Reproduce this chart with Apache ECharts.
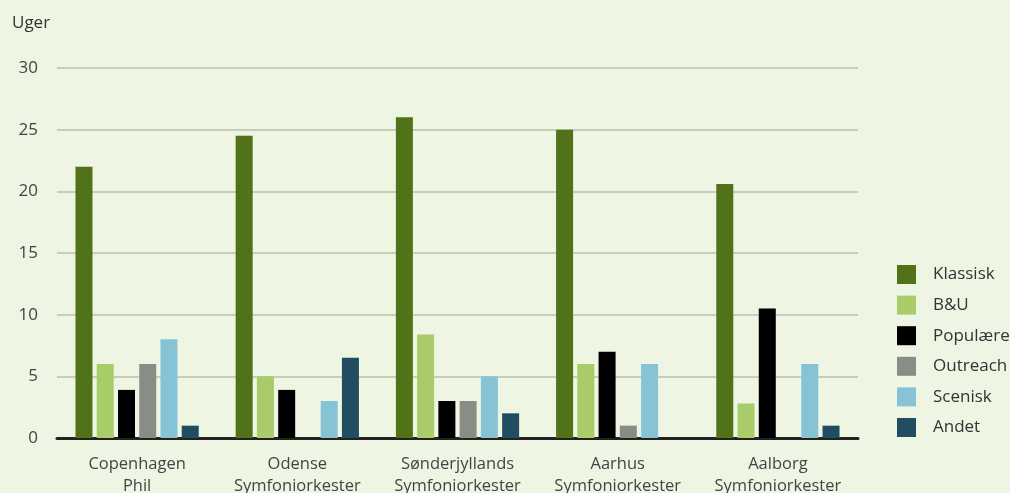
<!DOCTYPE html>
<html>
<head>
<meta charset="utf-8">
<script src="https://cdn.jsdelivr.net/npm/echarts@6/dist/echarts.min.js"></script>
<style>
html,body{margin:0;padding:0;background:#eef5e2;}
#chart{width:1010px;height:493px;}
</style>
</head>
<body>
<div id="chart"></div>
<script>
const categories = ['Copenhagen\nPhil', 'Odense\nSymfoniorkester', 'Sønderjyllands\nSymfoniorkester', 'Aarhus\nSymfoniorkester', 'Aalborg\nSymfoniorkester'];
const seriesNames = ['Klassisk', 'B&U', 'Populære', 'Outreach', 'Scenisk', 'Andet'];
const klassisk = [22, 24.5, 26, 25, 20.6];
const bu = [6, 5, 8.4, 6, 2.8];
const populaere = [3.9, 3.9, 3, 7, 10.5];
const outreach = [6, 0, 3, 1, 0];
const scenisk = [8, 3, 5, 6, 6];
const andet = [1, 6.5, 2, 0, 1];
const yTicks = [0, 5, 10, 15, 20, 25, 30];

const colors = ['#517219', '#a9cc6a', '#000000', '#8a8d85', '#86c4d5', '#224c5f'];
const values = [klassisk, bu, populaere, outreach, scenisk, andet];
const font = '"Open Sans", sans-serif';

const chart = echarts.init(document.getElementById('chart'));
chart.setOption({
  backgroundColor: '#eef5e2',
  animation: false,
  color: colors,
  title: {
    text: 'Uger', left: 7, top: 10,
    textStyle: { fontFamily: font, fontSize: 17, fontWeight: 'normal', color: '#333' }
  },
  grid: { left: 57, right: 152, top: 68, bottom: 55, outerBoundsMode: 'none' },
  legend: {
    orient: 'vertical', left: 892, top: 260,
    itemWidth: 19, itemHeight: 19, itemGap: 11.6,
    icon: 'rect',
    data: seriesNames,
    textStyle: { fontFamily: font, fontSize: 17, color: '#333', padding: [0, 0, 0, 12] }
  },
  xAxis: {
    type: 'category',
    data: categories,
    axisLine: { lineStyle: { color: '#222', width: 3 } },
    axisTick: { show: false },
    axisLabel: { interval: 0, hideOverlap: false, fontFamily: font, fontSize: 16.5, color: '#444', margin: 15, lineHeight: 22 }
  },
  yAxis: {
    type: 'value', min: 0, max: 30, interval: 5,
    axisLine: { show: false },
    axisTick: { show: false },
    splitLine: { lineStyle: { color: '#c8cdb9', width: 2 } },
    axisLabel: {
      fontFamily: font, fontSize: 17, color: '#444', margin: 19,
      formatter: v => yTicks.includes(v) ? String(v) : ''
    }
  },
  series: seriesNames.map((name, i) => ({
    name: name,
    type: 'bar',
    data: values[i],
    barWidth: 17,
    barGap: '25%',
    itemStyle: { color: colors[i] }
  }))
});
</script>
</body>
</html>
